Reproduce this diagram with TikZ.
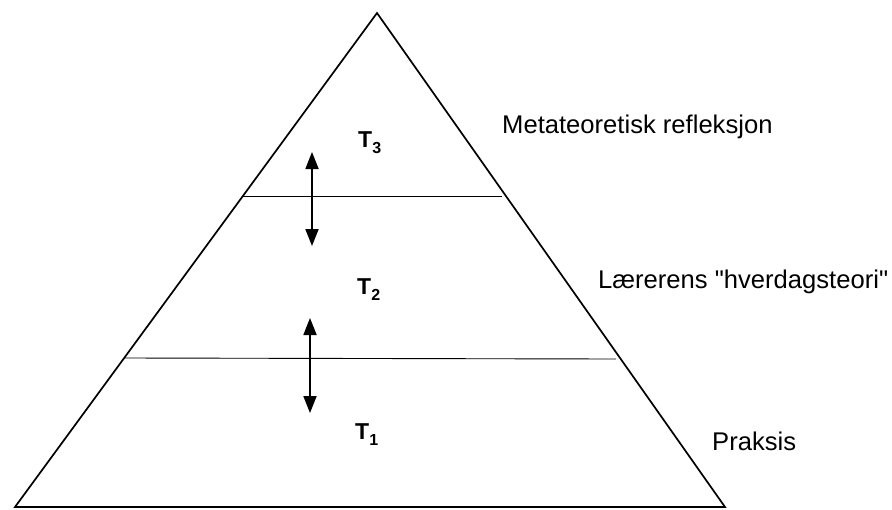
\documentclass[tikz,border=0pt]{standalone}
\usepackage{fontspec}
\setmainfont{Liberation Sans}[Ligatures=TeXOff]
\usetikzlibrary{arrows.meta}
\newcommand{\tsub}[1]{T{\fontsize{16}{18}\selectfont\raisebox{-6pt}{#1}}}
\begin{document}
\begin{tikzpicture}[x=1pt,y=-1pt,
  edge/.style={line width=1.7pt,line join=miter},
  level/.style={line width=0.9pt},
  dbl/.style={line width=1.8pt,{Triangle[length=17pt,width=13pt]}-{Triangle[length=17pt,width=13pt]}},
  tlab/.style={font=\fontsize{23}{26}\selectfont\bfseries,inner sep=0pt,anchor=base west},
  rlab/.style={font=\fontsize{25.6}{30}\selectfont,anchor=base west,inner sep=0pt}]
\useasboundingbox (0,0) rectangle (892,509);
\coordinate (apex) at (377,13);
\coordinate (bl) at (15,507);
\coordinate (br) at (725,507);
\draw[edge] (apex) -- (br) -- (bl) -- cycle;
\coordinate (l3a) at (243,196);
\coordinate (l3b) at (502,196);
\coordinate (l2a) at (124,358);
\coordinate (l2b) at (616,359);
\draw[level] (l3a) -- (l3b);
\draw[level] (l2a) -- (l2b);
\coordinate (a1t) at (312,152);
\coordinate (a1b) at (312,246);
\coordinate (a2t) at (310,318);
\coordinate (a2b) at (310,413);
\draw[dbl] (a1t) -- (a1b);
\draw[dbl] (a2t) -- (a2b);
\node[tlab] (t3) at (358,147) {\tsub{3}};
\node[tlab] (t2) at (357,294) {\tsub{2}};
\node[tlab] (t1) at (355,439) {\tsub{1}};
\node[rlab] (m) at (502,133) {Metateoretisk refleksjon};
\node[rlab] (h) at (598,288) {Lærerens "hverdagsteori"};
\node[rlab] (p) at (712,450) {Praksis};
\end{tikzpicture}
\end{document}
